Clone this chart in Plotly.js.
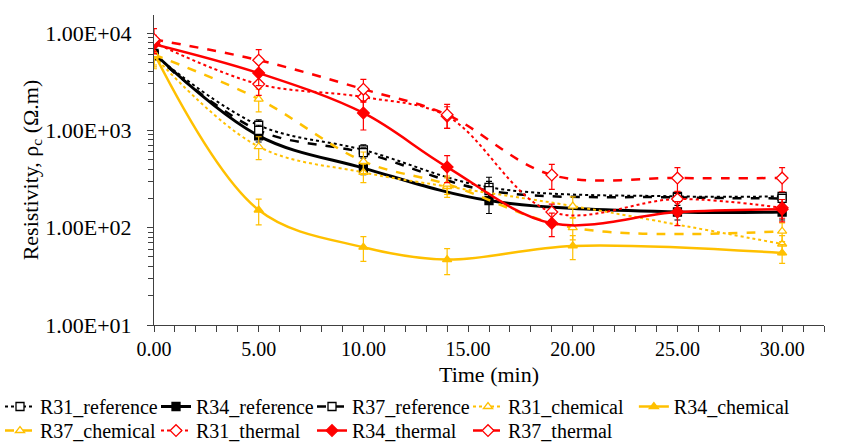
<!DOCTYPE html>
<html>
<head>
<meta charset="utf-8">
<script src="https://cdn.plot.ly/plotly-3.0.1.min.js"></script>
<style>html,body{margin:0;padding:0;background:#fff;}#chart{width:856px;height:443px;}</style>
</head>
<body>
<div id="chart"></div>
<script>
// Time (min)
const xRef = [0, 5, 10, 16, 25, 30];
const xChem = [0, 5, 10, 14, 20, 30];
const xTherm = [0, 5, 10, 14, 19, 25, 30];

// Resistivity values (Ohm.m)
const r31Reference = [6000, 1130, 630, 260, 210, 210];
const r34Reference = [6200, 880, 410, 190, 145, 145];
const r37Reference = [5900, 1000, 590, 240, 205, 200];
const r31Chemical = [5800, 680, 370, 265, 167, 68];
const r34Chemical = [6200, 152, 63, 47, 65, 55];
const r37Chemical = [6000, 2100, 480, 280, 100, 92];
const r31Thermal = [8000, 2990, 2200, 1400, 145, 197, 160];
const r34Thermal = [7700, 3880, 1510, 420, 111, 145, 155];
const r37Thermal = [8600, 5270, 2650, 1450, 348, 324, 324];

// Error bars (Ohm.m)
const r31ReferenceErr = [600, 150, 80, 70, 20, 20];
const r34ReferenceErr = [600, 120, 60, 50, 25, 25];
const r37ReferenceErr = [600, 130, 70, 60, 20, 20];
const r31ChemicalErr = [1500, 180, 80, 60, 40, 15];
const r34ChemicalErr = [1500, 45, 18, 14, 18, 12];
const r37ChemicalErr = [1500, 550, 120, 60, 25, 20];
const r31ThermalErr = [1500, 700, 600, 350, 30, 40, 35];
const r34ThermalErr = [1500, 1000, 500, 130, 30, 40, 40];
const r37ThermalErr = [2500, 1500, 700, 400, 100, 90, 90];

const seriesNames = ['R31_reference','R34_reference','R37_reference','R31_chemical','R34_chemical','R37_chemical','R31_thermal','R34_thermal','R37_thermal'];
const yTickVals = [10, 100, 1000, 10000];
const yTickText = ['1.00E+01','1.00E+02','1.00E+03','1.00E+04'];
const xTickVals = [0, 5, 10, 15, 20, 25, 30];

const BLACK = '#000000', GOLD = '#FFC000', RED = '#FF0000';

function mk(name, x, y, err, color, dash, symbol, filled, width, legendId) {
  return {
    type: 'scatter', mode: 'lines+markers', name: name, x: x, y: y, legend: legendId,
    line: {color: color, dash: dash, width: width, shape: 'spline', smoothing: 1},
    marker: {symbol: symbol, size: symbol === 'diamond' ? 9 : 8,
             color: filled ? color : '#ffffff', line: {color: color, width: 1.3}},
    error_y: {type: 'data', array: err, visible: true, color: color, thickness: 1.2, width: 3}
  };
}

const data = [
  mk(seriesNames[0], xRef, r31Reference, r31ReferenceErr, BLACK, 'dot', 'square', false, 2, 'legend'),
  mk(seriesNames[1], xRef, r34Reference, r34ReferenceErr, BLACK, 'solid', 'square', true, 3, 'legend'),
  mk(seriesNames[2], xRef, r37Reference, r37ReferenceErr, BLACK, 'dash', 'square', false, 2.5, 'legend'),
  mk(seriesNames[3], xChem, r31Chemical, r31ChemicalErr, GOLD, 'dot', 'triangle-up', false, 2, 'legend'),
  mk(seriesNames[4], xChem, r34Chemical, r34ChemicalErr, GOLD, 'solid', 'triangle-up', true, 2.5, 'legend3'),
  mk(seriesNames[5], xChem, r37Chemical, r37ChemicalErr, GOLD, 'dash', 'triangle-up', false, 2.5, 'legend2'),
  mk(seriesNames[6], xTherm, r31Thermal, r31ThermalErr, RED, 'dot', 'diamond', false, 2, 'legend2'),
  mk(seriesNames[7], xTherm, r34Thermal, r34ThermalErr, RED, 'solid', 'diamond', true, 2.5, 'legend2'),
  mk(seriesNames[8], xTherm, r37Thermal, r37ThermalErr, RED, 'dash', 'diamond', false, 2.5, 'legend2')
];

const FONT = 'Liberation Serif';
const legendCommon = {orientation: 'h', xanchor: 'left', yanchor: 'top', xref: 'container', yref: 'container',
  font: {family: FONT, size: 20, color: '#000'}, entrywidth: 111, entrywidthmode: 'pixels',
  itemwidth: 30, tracegroupgap: 0, bgcolor: 'rgba(0,0,0,0)', borderwidth: 0};

const layout = {
  width: 856, height: 443,
  paper_bgcolor: '#ffffff', plot_bgcolor: '#ffffff',
  margin: {l: 154, r: 32, t: 15, b: 118},
  font: {family: FONT, color: '#000', size: 20},
  showlegend: true,
  legend: Object.assign({}, legendCommon, {x: 0, y: 0.1264}),
  legend3: Object.assign({}, legendCommon, {x: 0.7405, y: 0.1264}),
  legend2: Object.assign({}, legendCommon, {x: 0, y: 0.0722}),
  xaxis: {
    range: [0, 32], showgrid: false, zeroline: false,
    showline: true, linecolor: '#404040', linewidth: 1,
    tickmode: 'array', tickvals: xTickVals, tickformat: '.2f',
    ticks: 'outside', ticklen: 6, tickcolor: '#404040',
    minor: {dtick: 1, ticks: 'outside', ticklen: 6, tickcolor: '#404040', showgrid: false},
    tickfont: {family: FONT, size: 20, color: '#000'},
    title: {text: 'Time (min)', font: {family: FONT, size: 22, color: '#000'}, standoff: 13}
  },
  yaxis: {
    type: 'log', range: [1, 4.186], showgrid: false, zeroline: false,
    showline: true, linecolor: '#404040', linewidth: 1,
    tickmode: 'array', tickvals: yTickVals, ticktext: yTickText,
    ticks: 'outside', ticklen: 6, tickcolor: '#404040', ticklabelstandoff: 11,
    minor: {tickmode: 'array', tickvals: [20,30,40,50,60,70,80,90,200,300,400,500,600,700,800,900,2000,3000,4000,5000,6000,7000,8000,9000], ticks: 'outside', ticklen: 5, tickcolor: '#404040', showgrid: false},
    tickfont: {family: FONT, size: 22, color: '#000'},
    title: {text: 'Resistivity, ρ<sub>c</sub> (Ω.m)', font: {family: FONT, size: 22, color: '#000'}, standoff: 0}
  }
};

Plotly.newPlot('chart', data, layout, {displayModeBar: false, staticPlot: true});
</script>
</body>
</html>
